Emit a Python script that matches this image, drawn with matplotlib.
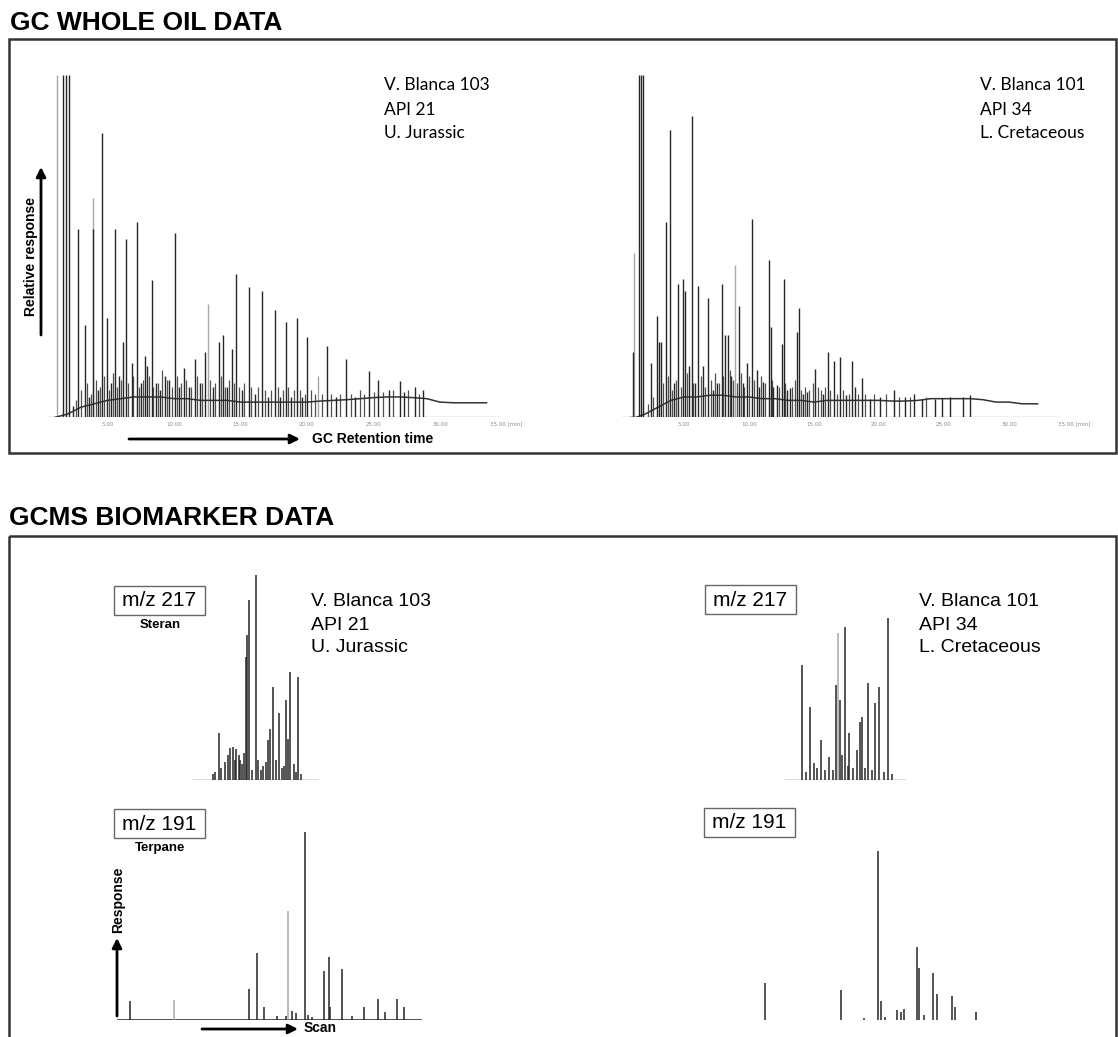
import matplotlib.pyplot as plt
from matplotlib.patches import Rectangle

# ---------------- GC whole oil, V. Blanca 103 (time in min, response in % of full scale)
gc103_t = [1.68, 1.88, 2.13, 2.43, 2.80, 3.31, 3.61, 3.93, 4.25, 4.61, 4.94, 5.23, 5.56, 5.86,
           6.19, 6.39, 6.82, 7.20, 7.52, 7.82, 7.99, 8.32, 8.65, 8.95, 9.32, 9.65, 10.08, 10.38,
           10.75, 11.13, 11.58, 11.95, 12.33, 12.93, 13.38, 13.66, 13.98, 14.34, 14.64, 15.11,
           15.64, 16.09, 16.64, 17.07, 17.59, 17.97, 18.42, 18.80, 19.23, 19.62, 20.02, 21.48,
           22.18, 22.93, 23.61, 24.68, 25.36, 26.17, 26.99, 27.26, 28.12, 28.74]
gc103_h = [100, 100, 100, 3.3, 55, 27, 6, 55, 8, 83, 29, 10, 55, 12,
           22, 52, 16, 57, 10, 18, 15, 40, 10, 8, 12, 11, 54, 9,
           14.5, 9, 17, 10, 19, 9, 22, 24, 9, 20, 42, 8,
           38, 7, 37, 6, 31.5, 6, 28, 6, 29, 6, 23.5, 21,
           6, 17, 6, 13.5, 11, 8, 10.6, 7.5, 9, 8]
gc103_light_t = [1.18, 3.93, 12.53, 20.85]
gc103_light_h = [100, 64, 33, 12]
gc103_minor_t = [2.6, 3.0, 3.45, 3.75, 4.1, 4.4, 4.75, 5.1, 5.4, 5.7, 6.0, 6.55, 6.95, 7.35, 7.65,
                 8.1, 8.45, 8.8, 9.1, 9.5, 9.85, 10.2, 10.55, 10.9, 11.3, 11.75, 12.1, 12.7, 13.1,
                 13.5, 13.85, 14.15, 14.5, 14.85, 15.3, 15.8, 16.3, 16.85, 17.3, 17.8, 18.2, 18.6,
                 19.0, 19.45, 19.85, 20.3, 20.6, 21.1, 21.8, 22.5, 23.3, 24.0, 24.3, 25.0, 25.7,
                 26.5, 27.6, 28.4]
gc103_minor_h = [5, 8, 10, 7, 11, 9, 12, 8, 13, 9, 11, 10, 12, 9, 11,
                 12, 9, 10, 14, 11, 9, 12, 10, 11, 9, 12, 10, 11, 10,
                 12, 9, 11, 10, 9, 10, 9, 9, 8, 8, 9, 8, 9,
                 8, 8, 7, 8, 7, 7, 7, 7, 7, 8, 7, 7.5, 7.5,
                 8, 8, 7]
gc103_hump_t = [1.0, 1.5, 2.0, 2.5, 3.0, 4, 5, 6, 7, 8, 9, 10, 11, 12, 13, 14, 15, 16, 17, 18,
                19, 20, 21, 22, 23, 24, 25, 26, 27, 28, 29, 30, 31, 32, 33.5]
gc103_hump_h = [0, 0.5, 1, 2, 3, 4, 5, 5.5, 6, 6, 6, 5.5, 5.5, 5, 5, 5, 4.5, 4.5, 4.5, 4.5,
                4.5, 4.5, 4.8, 5, 5.2, 5.5, 5.8, 6, 6, 5.8, 5.5, 4.5, 4.3, 4.3, 4.3]
gc103_range = [0.55, 34.4]

# ---------------- GC whole oil, V. Blanca 101
gc101_t = [1.05, 1.56, 1.72, 1.87, 2.44, 2.90, 3.08, 3.23, 3.59, 3.92, 4.23, 4.56, 4.90, 5.10,
           5.41, 5.59, 5.85, 6.10, 6.48, 6.87, 7.23, 7.54, 7.90, 8.12, 8.35, 8.62, 9.25, 9.54,
           9.82, 10.23, 10.59, 10.77, 11.05, 11.54, 11.67, 11.88, 12.13, 12.52, 12.69, 12.92,
           13.15, 13.72, 13.87, 14.15, 14.44, 15.08, 15.67, 16.05, 16.54, 17.0, 17.46, 17.96,
           18.15, 18.67, 19.31, 20.08, 21.18, 22.0, 22.72, 23.28, 24.31, 24.85, 25.46, 26.48, 27.0]
gc101_h = [19, 100, 100, 100, 16, 29.5, 22, 22, 57, 84, 10, 39, 40.5, 37,
           15, 88, 10, 38.5, 15, 35, 8, 10, 39, 24, 24, 12, 32.5, 10,
           16, 58, 14, 9, 10.5, 46, 26.5, 9, 9.5, 21.6, 40.4, 8,
           8.5, 25, 32, 7, 7.5, 14.3, 7, 19, 16.5, 17.6, 6.5, 16.4,
           9, 11.6, 5.5, 6, 8, 6, 7, 5.5, 5.5, 5.8, 6, 6, 6.5]
gc101_light_t = [1.18, 8.92]
gc101_light_h = [48, 44.6]
gc101_minor_t = [2.2, 2.65, 3.35, 3.75, 4.05, 4.4, 4.75, 5.25, 5.7, 6.3, 6.65, 7.05, 7.4, 7.7,
                 8.0, 8.5, 8.75, 9.1, 9.4, 9.65, 10.0, 10.4, 10.9, 11.25, 11.8, 12.3, 12.8, 13.3,
                 13.55, 14.0, 14.3, 14.65, 14.9, 15.3, 15.5, 15.85, 16.25, 16.75, 17.25, 17.7,
                 18.4, 18.9, 19.6, 20.5, 21.5, 22.4, 23.6]
gc101_minor_h = [4, 6, 10, 12, 8, 11, 9, 13, 10, 12, 9, 11, 13, 10,
                 12, 14, 11, 10, 13, 9, 12, 11, 12, 10, 11, 9, 10, 9,
                 11, 8, 9, 8, 10, 9, 8, 9, 8, 7, 8, 7,
                 7, 7, 7, 7, 6, 6, 6]
gc101_hump_t = [0.9, 1.3, 2.0, 2.5, 3.0, 3.5, 4, 5, 6, 7, 8, 9, 10, 11, 12, 13, 14, 15, 16, 17,
                18, 19, 20, 21, 22, 23, 24, 25, 26, 27, 28, 29, 30, 31, 32.2]
gc101_hump_h = [0, 0, 1, 2, 3, 4, 5, 6, 6, 6.5, 6.5, 6, 6, 5.5, 5.5, 5, 5, 4.5, 5, 5,
                5, 5, 5, 4.8, 4.8, 5, 5.5, 5.5, 5.5, 5.5, 5.2, 4.5, 4.5, 4, 4]
gc101_range = [0.2, 33.8]

gc_ticks = [5, 10, 15, 20, 25, 30, 35]
gc_ticklabels = ["5.00", "10.00", "15.00", "20.00", "25.00", "30.00", "35.00 [min]"]

# ---------------- GCMS m/z 217 steranes (scan units, % response)
st103_s = [20, 21.4, 24.3, 25.7, 28.6, 30.4, 32.1, 34.1, 35.7, 36.4, 38.6, 39.3, 40.7, 42.1,
           43.6, 44.1, 45.7, 47.9, 50.5, 52.4, 54, 55.9, 57.5, 59.5, 60.7, 62.6, 65, 67.4, 69.3,
           70.7, 72.1, 73.6, 75, 77.9, 79.3, 80.9, 82.9]
st103_h = [3, 4, 22.8, 6, 9, 12, 15.4, 16.2, 10, 15, 12, 9.8, 8, 13.3,
           60, 70.7, 87.8, 5, 100, 9.8, 5, 7, 9, 19.5, 25, 45.5, 10, 32.5, 6,
           7, 39, 20, 52.8, 8, 4, 50.4, 3]
st103_range = [5.7, 94.3]

st101_s = [19.1, 22.1, 25, 28.1, 30.2, 32.9, 35.7, 38.8, 41.2, 43.6, 46.4, 48.2, 50, 51.9,
           53.1, 55.7, 58.4, 60.7, 62.4, 64.3, 66.6, 69.3, 71.4, 74.3, 77.9, 80.5, 83.6]
st101_h = [56, 4, 35.8, 8.3, 6, 19.5, 5, 11.4, 5, 46.3, 39, 12, 74.8, 7,
           22.8, 6, 14.6, 28.5, 30.9, 6, 47.2, 5, 37.4, 45.5, 4, 79, 3]
st101_light_s = [45.2]
st101_light_h = [71.5]
st101_range = [7.1, 92.6]

# ---------------- GCMS m/z 191 terpanes
tp103_s = [6.4, 43.4, 46, 48.2, 52.1, 54.9, 56.9, 58, 60.8, 61.8, 63.1, 67, 68.4, 68.9, 72.4,
           75.6, 79.3, 83.9, 85.9, 89.8, 92]
tp103_h = [10, 16.5, 35.5, 7, 2.3, 2, 5, 3.5, 100, 2.5, 1.5, 26, 33.5, 7, 27,
           2, 7, 11, 4, 11, 7]
tp103_light_s = [20.1, 55.6]
tp103_light_h = [10.5, 58]
tp103_range = [2.5, 97.2]

tp101_s = [20.4, 44.2, 51.3, 55.6, 56.5, 57.8, 61.7, 62.8, 63.6, 67.8, 68.4, 69.9, 72.7, 74,
           78.7, 79.8, 86.1]
tp101_h = [19.5, 16, 1.3, 90, 10, 1.5, 5.3, 4, 6, 39, 27.5, 2.5, 25, 14, 12.8, 7, 4.3]

W, H = 1118, 1037
DARK = '#262626'
LIGHT = '#a8a8a8'
fig = plt.figure(figsize=(W / 100, H / 100), dpi=100)

# overlay in pixel coordinates for frames, arrows and labels
ov = fig.add_axes([0, 0, 1, 1])
ov.set_xlim(0, W)
ov.set_ylim(H, 0)
ov.axis('off')


def trace_axes(x0, x1, y_base, y_top, xlim, ylim=(0, 100)):
    ax = fig.add_axes([x0 / W, 1 - y_base / H, (x1 - x0) / W, (y_base - y_top) / H])
    ax.set_xlim(*xlim)
    ax.set_ylim(*ylim)
    ax.axis('off')
    return ax


# GC chromatograms
for x0, x1, t, h, lt, lh, mt, mh, ht, hh, rng in [
        (41, 506.5, gc103_t, gc103_h, gc103_light_t, gc103_light_h, gc103_minor_t, gc103_minor_h,
         gc103_hump_t, gc103_hump_h, gc103_range),
        (619, 1074, gc101_t, gc101_h, gc101_light_t, gc101_light_h, gc101_minor_t, gc101_minor_h,
         gc101_hump_t, gc101_hump_h, gc101_range)]:
    ax = trace_axes(x0, x1, 417.5, 75, (0, 35))
    ax.plot(rng, [0, 0], color='#888888', lw=0.9)
    ax.vlines(lt, 0, lh, color=LIGHT, lw=1.0)
    ax.vlines(mt, 0, mh, color='#505050', lw=0.9)
    ax.plot(ht, hh, color='#333333', lw=1.1)
    ax.vlines(t, 0, h, color=DARK, lw=1.0)
    for tk, lab in zip(gc_ticks, gc_ticklabels):
        ax.text(tk, -1.9, lab, ha='center', va='center', fontsize=4, color='#8a8a8a')

# steranes
ax = trace_axes(185, 325, 780, 575, (0, 100))
ax.plot(st103_range, [0, 0], color='#555555', lw=1.0)
ax.vlines(st103_s, 0, st103_h, color=DARK, lw=1.1)
ax = trace_axes(775, 915, 780, 575, (0, 100))
ax.plot(st101_range, [0, 0], color='#555555', lw=1.0)
ax.vlines(st101_light_s, 0, st101_light_h, color=LIGHT, lw=1.1)
ax.vlines(st101_s, 0, st101_h, color=DARK, lw=1.1)

# terpanes
ax = trace_axes(110, 430, 1020, 832, (0, 100))
ax.plot(tp103_range, [0, 0], color='#444444', lw=1.3)
ax.vlines(tp103_light_s, 0, tp103_light_h, color=LIGHT, lw=1.1)
ax.vlines(tp103_s, 0, tp103_h, color=DARK, lw=1.1)
ax = trace_axes(700, 1020, 1020, 832, (0, 100))
ax.vlines(tp101_s, 0, tp101_h, color=DARK, lw=1.1)

# frames and headings
ov.add_patch(Rectangle((9, 39), 1107, 414, fill=False, lw=1.8, ec='#333333'))
ov.add_patch(Rectangle((9, 536), 1107, 600, fill=False, lw=1.8, ec='#333333'))
head = dict(fontsize=19, fontweight='bold', family='Liberation Sans', va='center', ha='left')
ov.text(10, 23, "GC WHOLE OIL DATA", **head)
ov.text(9, 518, "GCMS BIOMARKER DATA", **head)

# GC labels
cond = dict(fontsize=12.5, family='Lato', va='center', ha='left')
for x, lines in [(384, ["V. Blanca 103", "API 21", "U. Jurassic"]),
                 (980, ["V. Blanca 101", "API 34", "L. Cretaceous"])]:
    for y, s in zip([85, 110, 133], lines):
        ov.text(x, y, s, **cond)

bold = dict(fontsize=10, fontweight='bold', family='Liberation Sans')
arrow = dict(arrowstyle='-|>', lw=2, color='black', mutation_scale=14, shrinkA=0, shrinkB=0)
ov.annotate('', xy=(41, 167), xytext=(41, 335), arrowprops=arrow)
ov.text(31, 257, "Relative response", rotation=90, ha='center', va='center', **bold)
ov.annotate('', xy=(300, 439), xytext=(129, 439), arrowprops=arrow)
ov.text(312, 439, "GC Retention time", ha='left', va='center', **bold)

# GCMS labels
reg = dict(fontsize=14, family='Liberation Sans', va='center', ha='left')
for x, lines in [(311, ["V. Blanca 103", "API 21", "U. Jurassic"]),
                 (919, ["V. Blanca 101", "API 34", "L. Cretaceous"])]:
    for y, s in zip([601, 625, 648], lines):
        ov.text(x, y, s, **reg)

for x0, y0, s in [(114, 586, "m/z 217"), (705, 585, "m/z 217"),
                  (114, 809, "m/z 191"), (704, 808, "m/z 191")]:
    ov.add_patch(Rectangle((x0, y0), 91, 29, fill=False, lw=1.0, ec='#666666'))
    ov.text(x0 + 45.5, y0 + 15, s, fontsize=15, family='Liberation Sans',
            ha='center', va='center')
small = dict(fontsize=9.5, fontweight='bold', family='Liberation Sans', ha='center', va='center')
ov.text(160, 625, "Steran", **small)
ov.text(160, 848, "Terpane", **small)

ov.annotate('', xy=(117, 938), xytext=(117, 1016), arrowprops=arrow)
ov.text(118, 900, "Response", rotation=90, ha='center', va='center', **bold)
ov.annotate('', xy=(298, 1029), xytext=(202, 1029), arrowprops=arrow)
ov.text(304, 1028, "Scan", ha='left', va='center', **bold)

fig.savefig('out.png', dpi=100)
